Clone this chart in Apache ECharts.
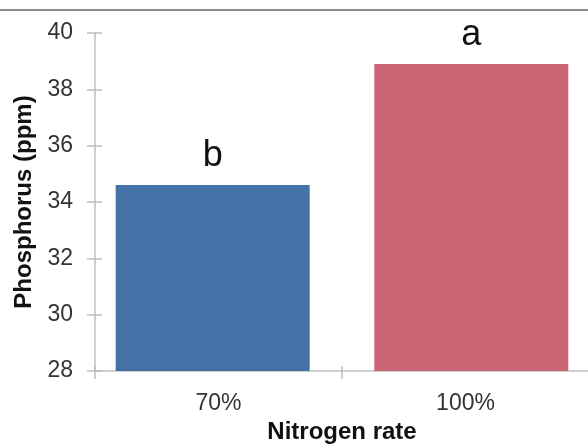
<!DOCTYPE html>
<html>
<head>
<meta charset="utf-8">
<script src="https://cdn.jsdelivr.net/npm/echarts@6/dist/echarts.min.js"></script>
<style>
  html, body { margin: 0; padding: 0; background: #fff; }
  #chart { width: 588px; height: 446px; }
</style>
</head>
<body>
<div id="chart"></div>
<script>
// data
const categories = ['70%', '100%'];
const phosphorus = [34.6, 38.9];
const letters = ['b', 'a'];
const barColors = ['#4373a6', '#c96474'];

const yMin = 28, yMax = 40, yStep = 2;
const font = '"Liberation Sans", Arial, sans-serif';

var chart = echarts.init(document.getElementById('chart'));

// one series per category so each bar gets its own colour and slight offset
var series = categories.map(function(c, i) {
  return {
    name: c,
    type: 'bar',
    barWidth: 194,
    barGap: '-94%',
    data: categories.map(function(_, j) { return j === i ? phosphorus[i] : '-'; }),
    itemStyle: { color: barColors[i] },
    label: {
      show: true,
      position: 'top',
      distance: 11,
      formatter: function() { return letters[i]; },
      fontFamily: font,
      fontSize: 36,
      color: '#111'
    }
  };
});

var axisGray = '#bfbfbf';

chart.setOption({
  animation: false,
  graphic: [{
    type: 'rect',
    shape: { x: 0, y: 9, width: 588, height: 2 },
    style: { fill: '#8c8c8c' }
  }],
  grid: { left: 95, right: -1, top: 33, bottom: 75, outerBoundsMode: 'none', containLabel: false },
  xAxis: [{
    type: 'category',
    data: categories,
    axisLine: { lineStyle: { color: axisGray, width: 1.5 } },
    axisTick: { show: true, length: 8, lineStyle: { color: axisGray, width: 1.5 } },
    axisLabel: { fontFamily: font, fontSize: 23, color: '#333', margin: 21 },
    name: 'Nitrogen rate',
    nameLocation: 'middle',
    nameGap: 49,
    nameTextStyle: { fontFamily: font, fontSize: 24, fontWeight: 'bold', color: '#111' }
  }, {
    type: 'category',
    data: categories,
    position: 'bottom',
    axisLine: { show: false },
    axisTick: { show: true, inside: true, length: 5, lineStyle: { color: axisGray, width: 1.5 } },
    axisLabel: { show: false }
  }],
  yAxis: [{
    type: 'value',
    min: yMin,
    max: yMax,
    interval: yStep,
    splitLine: { show: false },
    axisLine: { show: true, lineStyle: { color: axisGray, width: 1.5 } },
    axisTick: { show: true, length: 8, lineStyle: { color: axisGray, width: 1.5 } },
    axisLabel: { fontFamily: font, fontSize: 23, color: '#333', margin: 22 },
    name: 'Phosphorus (ppm)',
    nameLocation: 'middle',
    nameGap: 50,
    nameTextStyle: { fontFamily: font, fontSize: 24, fontWeight: 'bold', color: '#111' }
  }, {
    type: 'value',
    position: 'left',
    min: yMin,
    max: yMax,
    interval: yStep,
    splitLine: { show: false },
    axisLine: { show: false },
    axisTick: { show: true, inside: true, length: 7, lineStyle: { color: axisGray, width: 1.5 } },
    axisLabel: { show: false }
  }],
  series: series
});

window.addEventListener('resize', function() {
  chart.resize();
});
</script>
</body>
</html>
